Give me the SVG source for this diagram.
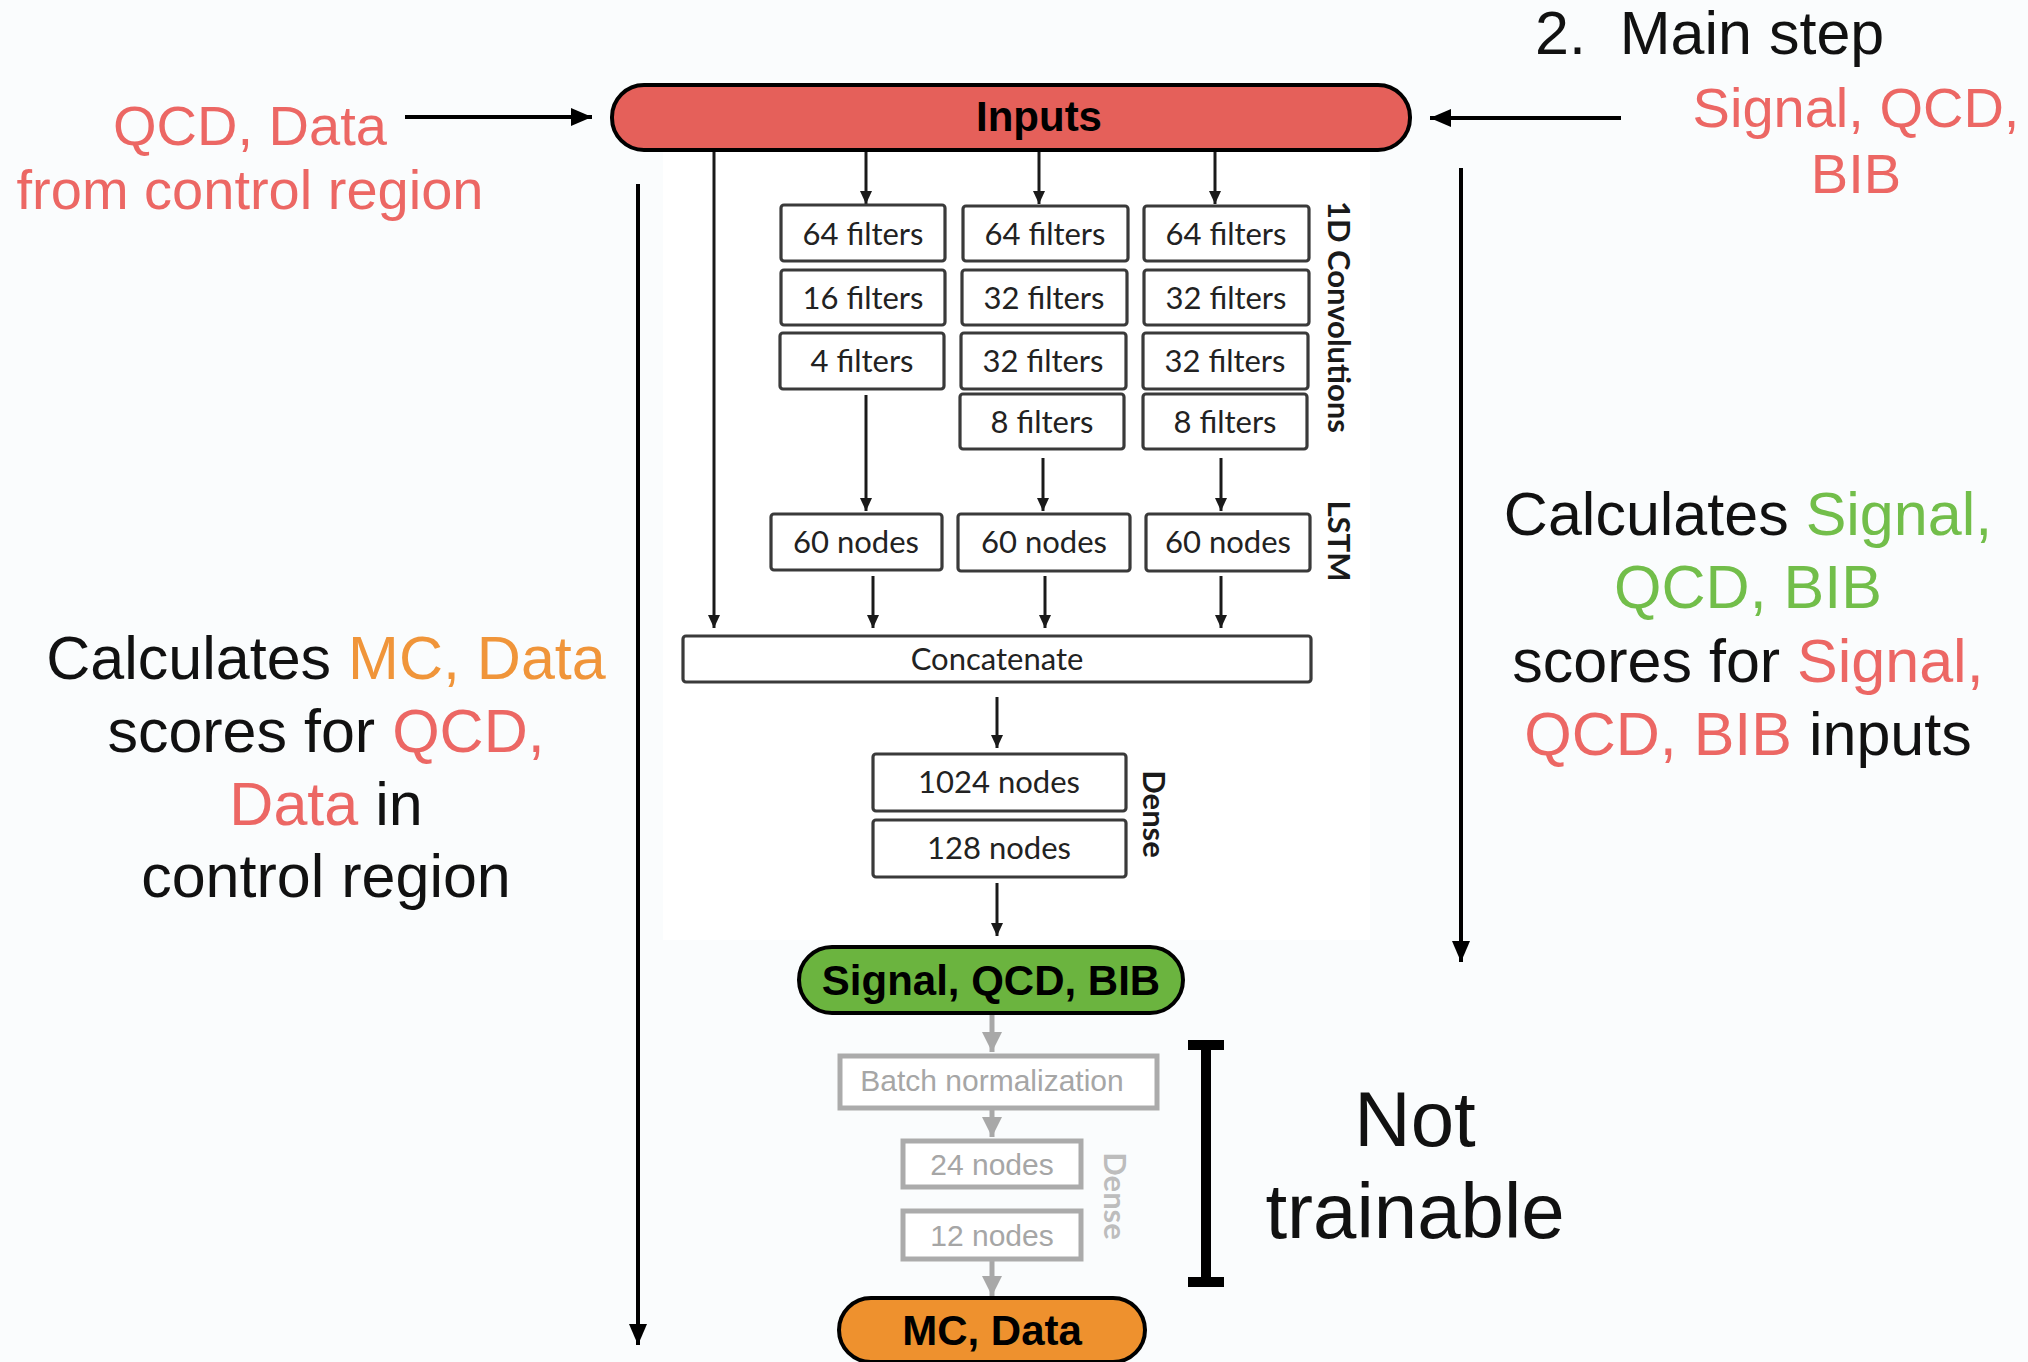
<svg xmlns="http://www.w3.org/2000/svg" width="2028" height="1362" viewBox="0 0 2028 1362">
  <style>
    .note { font-family: "Liberation Sans", Arial, sans-serif; font-size: 61px; fill: #111; }
    .small { font-size: 56px; }
    .huge { font-size: 78px; }
    .red { fill: #EC6764; }
    .grn { fill: #72BE4A; }
    .org { fill: #F0953A; }
    .pill-t { font-family: "Liberation Sans", Arial, sans-serif; font-weight: bold; font-size: 42px; fill: #000; text-anchor: middle; }
    .box { fill: #fff; stroke: #3a3a3a; stroke-width: 3.2; }
    .box-t { font-family: Lato, "Open Sans", sans-serif; font-size: 31px; fill: #222; text-anchor: middle; }
    .side { font-family: Lato, "Open Sans", sans-serif; font-weight: bold; font-size: 31px; fill: #1a1a1a; text-anchor: middle; }
    .side-gray { fill: #bdbdbd; }
    .gbox { fill: #fff; stroke: #ababab; stroke-width: 5; }
    .gbox-t { font-family: "Liberation Sans", Arial, sans-serif; font-size: 30px; fill: #a6a6a6; text-anchor: middle; }
    .link { stroke: #1a1a1a; stroke-width: 3; fill: none; }
    .glink { stroke: #a8a8a8; stroke-width: 5; fill: none; }
    .big { stroke: #000; stroke-width: 4; fill: none; }
  </style>
  <defs>
    <marker id="ah" markerUnits="userSpaceOnUse" markerWidth="14" markerHeight="14" refX="13" refY="7" orient="auto">
      <path d="M0,1 L13,7 L0,13 z" fill="#1a1a1a"/>
    </marker>
    <marker id="ahBig" markerUnits="userSpaceOnUse" markerWidth="22" markerHeight="22" refX="21" refY="11" orient="auto">
      <path d="M0,2 L21,11 L0,20 z" fill="#000"/>
    </marker>
    <marker id="ahGray" markerUnits="userSpaceOnUse" markerWidth="22" markerHeight="22" refX="20" refY="11" orient="auto">
      <path d="M0,1 L20,11 L0,21 z" fill="#a8a8a8"/>
    </marker>
  </defs>

  <!-- canvas and network panel -->
  <rect width="2028" height="1362" fill="#FAFCFD"/>
  <rect x="663" y="150" width="707" height="790" fill="#FFFFFF"/>

  <!-- connectors -->
  <g id="connectors">
    <!-- external inputs into the Inputs bar -->
    <line class="big" x1="405" y1="117" x2="592" y2="117" stroke-width="5" marker-end="url(#ahBig)"/>
    <line class="big" x1="1621" y1="118" x2="1430" y2="118" stroke-width="3" marker-end="url(#ahBig)"/>
    <!-- long span arrows -->
    <line class="big" x1="638" y1="184" x2="638" y2="1345" marker-end="url(#ahBig)"/>
    <line class="big" x1="1461" y1="168" x2="1461" y2="962" marker-end="url(#ahBig)"/>
    <!-- Inputs to conv branches -->
    <line class="link" x1="866" y1="150" x2="866" y2="204" marker-end="url(#ah)"/>
    <line class="link" x1="1039" y1="150" x2="1039" y2="204" marker-end="url(#ah)"/>
    <line class="link" x1="1215" y1="150" x2="1215" y2="204" marker-end="url(#ah)"/>
    <!-- skip connection Inputs to Concatenate -->
    <line class="link" x1="714" y1="150" x2="714" y2="628" marker-end="url(#ah)"/>
    <!-- conv to LSTM -->
    <line class="link" x1="866" y1="395" x2="866" y2="511" marker-end="url(#ah)"/>
    <line class="link" x1="1043" y1="458" x2="1043" y2="511" marker-end="url(#ah)"/>
    <line class="link" x1="1221" y1="458" x2="1221" y2="511" marker-end="url(#ah)"/>
    <!-- LSTM to Concatenate -->
    <line class="link" x1="873" y1="576" x2="873" y2="628" marker-end="url(#ah)"/>
    <line class="link" x1="1045" y1="576" x2="1045" y2="628" marker-end="url(#ah)"/>
    <line class="link" x1="1221" y1="576" x2="1221" y2="628" marker-end="url(#ah)"/>
    <!-- Concatenate to Dense -->
    <line class="link" x1="997" y1="697" x2="997" y2="748" marker-end="url(#ah)"/>
    <!-- Dense to output -->
    <line class="link" x1="997" y1="883" x2="997" y2="936" marker-end="url(#ah)"/>
    <!-- frozen head -->
    <line class="glink" x1="992" y1="1013" x2="992" y2="1052" marker-end="url(#ahGray)"/>
    <line class="glink" x1="992" y1="1110" x2="992" y2="1137" marker-end="url(#ahGray)"/>
    <line class="glink" x1="992" y1="1260" x2="992" y2="1296" marker-end="url(#ahGray)"/>
  </g>

  <!-- Inputs bar -->
  <g id="inputs">
    <rect x="612" y="85" width="798" height="65" rx="32" fill="#E5605A" stroke="#000" stroke-width="4"/>
    <text class="pill-t" x="1039" y="131">Inputs</text>
  </g>

  <!-- 1D convolution branches -->
  <g id="conv-branch-1">
    <rect class="box" x="781" y="205" width="164" height="56" rx="3"/>
    <text class="box-t" x="863" y="245">64 filters</text>
    <rect class="box" x="781" y="270" width="164" height="55" rx="3"/>
    <text class="box-t" x="863" y="309">16 filters</text>
    <rect class="box" x="780" y="333" width="164" height="56" rx="3"/>
    <text class="box-t" x="862" y="372">4 filters</text>
  </g>
  <g id="conv-branch-2">
    <rect class="box" x="963" y="206" width="165" height="55" rx="3"/>
    <text class="box-t" x="1045" y="245">64 filters</text>
    <rect class="box" x="962" y="270" width="165" height="55" rx="3"/>
    <text class="box-t" x="1044" y="309">32 filters</text>
    <rect class="box" x="961" y="333" width="165" height="56" rx="3"/>
    <text class="box-t" x="1043" y="372">32 filters</text>
    <rect class="box" x="960" y="394" width="164" height="55" rx="3"/>
    <text class="box-t" x="1042" y="433">8 filters</text>
  </g>
  <g id="conv-branch-3">
    <rect class="box" x="1144" y="206" width="165" height="55" rx="3"/>
    <text class="box-t" x="1226" y="245">64 filters</text>
    <rect class="box" x="1144" y="270" width="165" height="55" rx="3"/>
    <text class="box-t" x="1226" y="309">32 filters</text>
    <rect class="box" x="1143" y="333" width="165" height="56" rx="3"/>
    <text class="box-t" x="1225" y="372">32 filters</text>
    <rect class="box" x="1143" y="394" width="164" height="55" rx="3"/>
    <text class="box-t" x="1225" y="433">8 filters</text>
  </g>
  <g id="conv-label">
    <text class="side" transform="translate(1328,317) rotate(90)">1D Convolutions</text>
  </g>

  <!-- LSTM layer -->
  <g id="lstm">
    <rect class="box" x="771" y="514" width="171" height="56" rx="3"/>
    <text class="box-t" x="856" y="553">60 nodes</text>
    <rect class="box" x="958" y="514" width="172" height="57" rx="3"/>
    <text class="box-t" x="1044" y="553">60 nodes</text>
    <rect class="box" x="1146" y="514" width="164" height="57" rx="3"/>
    <text class="box-t" x="1228" y="553">60 nodes</text>
    <text class="side" transform="translate(1328,541) rotate(90)">LSTM</text>
  </g>

  <!-- Concatenate -->
  <g id="concatenate">
    <rect class="box" x="683" y="636" width="628" height="46" rx="3"/>
    <text class="box-t" x="997" y="670">Concatenate</text>
  </g>

  <!-- Dense layers -->
  <g id="dense">
    <rect class="box" x="873" y="754" width="253" height="57" rx="3"/>
    <text class="box-t" x="999" y="793">1024 nodes</text>
    <rect class="box" x="873" y="820" width="253" height="57" rx="3"/>
    <text class="box-t" x="999" y="859">128 nodes</text>
    <text class="side" transform="translate(1143,814) rotate(90)">Dense</text>
  </g>

  <!-- class output -->
  <g id="out-classes">
    <rect x="799" y="947" width="384" height="66" rx="33" fill="#6BB43F" stroke="#000" stroke-width="4"/>
    <text class="pill-t" x="991" y="995">Signal, QCD, BIB</text>
  </g>

  <!-- frozen head -->
  <g id="batch-norm">
    <rect class="gbox" x="840" y="1056" width="317" height="52"/>
    <text class="gbox-t" x="992" y="1091">Batch normalization</text>
  </g>
  <g id="dense-24">
    <rect class="gbox" x="903" y="1141" width="178" height="46"/>
    <text class="gbox-t" x="992" y="1175">24 nodes</text>
  </g>
  <g id="dense-12">
    <rect class="gbox" x="903" y="1211" width="178" height="48"/>
    <text class="gbox-t" x="992" y="1246">12 nodes</text>
  </g>
  <g id="dense-frozen-label">
    <text class="side side-gray" transform="translate(1104,1196) rotate(90)">Dense</text>
  </g>

  <!-- domain output -->
  <g id="out-domain">
    <rect x="839" y="1298" width="306" height="64" rx="32" fill="#EE912E" stroke="#000" stroke-width="4"/>
    <text class="pill-t" x="992" y="1345">MC, Data</text>
  </g>

  <!-- frozen bracket -->
  <g id="frozen-bracket">
    <line x1="1206" y1="1041" x2="1206" y2="1286" stroke="#000" stroke-width="10"/>
    <line x1="1188" y1="1045" x2="1224" y2="1045" stroke="#000" stroke-width="10"/>
    <line x1="1188" y1="1282" x2="1224" y2="1282" stroke="#000" stroke-width="10"/>
    <text class="note huge" x="1415" y="1146" text-anchor="middle">Not</text>
    <text class="note huge" x="1415" y="1238" text-anchor="middle">trainable</text>
  </g>

  <!-- annotations -->
  <g id="title">
    <text class="note" x="1535" y="54" xml:space="preserve">2.  Main step</text>
  </g>
  <g id="main-inputs">
    <text class="note small red" x="1856" y="127" text-anchor="middle">Signal, QCD,</text>
    <text class="note small red" x="1856" y="193" text-anchor="middle">BIB</text>
  </g>
  <g id="control-inputs">
    <text class="note small red" x="250" y="145" text-anchor="middle">QCD, Data</text>
    <text class="note small red" x="250" y="209" text-anchor="middle">from control region</text>
  </g>
  <g id="main-scores">
    <text class="note" x="1748" y="535" text-anchor="middle">Calculates <tspan class="grn">Signal,</tspan></text>
    <text class="note grn" x="1748" y="608" text-anchor="middle">QCD, BIB</text>
    <text class="note" x="1748" y="682" text-anchor="middle">scores for <tspan class="red">Signal,</tspan></text>
    <text class="note" x="1748" y="755" text-anchor="middle"><tspan class="red">QCD, BIB</tspan> inputs</text>
  </g>
  <g id="domain-scores">
    <text class="note" x="326" y="679" text-anchor="middle">Calculates <tspan class="org">MC, Data</tspan></text>
    <text class="note" x="326" y="752" text-anchor="middle">scores for <tspan class="red">QCD,</tspan></text>
    <text class="note" x="326" y="825" text-anchor="middle"><tspan class="red">Data</tspan> in</text>
    <text class="note" x="326" y="897" text-anchor="middle">control region</text>
  </g>
</svg>
